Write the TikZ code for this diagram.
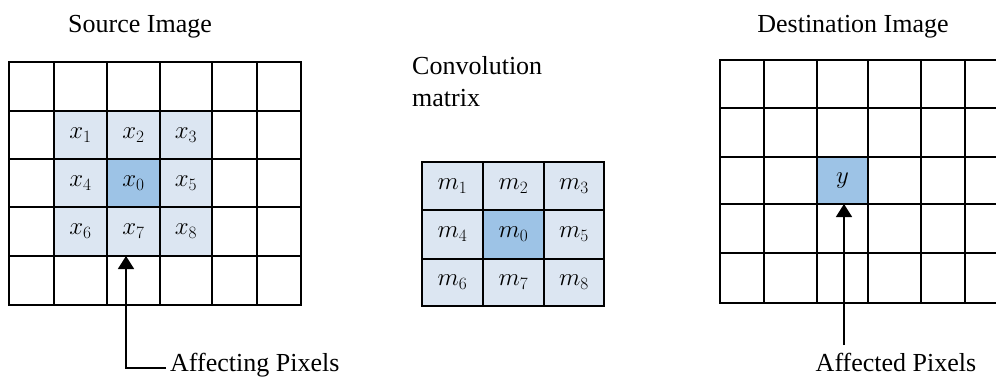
\documentclass[tikz,border=0pt]{standalone}
\usepackage{fontspec}
\setmainfont{Liberation Serif}
\usetikzlibrary{arrows.meta}
\definecolor{lightcell}{HTML}{DCE6F2}
\definecolor{darkcell}{HTML}{9DC3E6}
\newcommand\mkcell[7]{\node[cellbox, fill=#6, minimum width={(#4-#2)*1pt}, minimum height={(#5-#3)*1pt}] (#1) at ({(#2+#4)/2},{(#3+#5)/2}) {#7};}
\begin{document}
\begin{tikzpicture}[x=1pt,y=-1pt,
  gridline/.style={line width=1.6pt, black, line cap=rect},
  cellbox/.style={rectangle, inner sep=0pt, outer sep=0pt, font=\fontsize{26}{30}\selectfont},
  lbl/.style={font=\fontsize{26}{30}\selectfont, inner sep=0pt},
  arr/.style={line width=1.6pt, -{Triangle[width=16pt,length=13pt]}}]
\useasboundingbox (0,0) rectangle (996,377);
% ---------- Source image ----------
\node[lbl, anchor=base] (srctitle) at (140,33) {Source Image};
\mkcell{x1}{54}{111}{107}{159}{lightcell}{$x_1$}
\mkcell{x2}{107}{111}{160}{159}{lightcell}{$x_2$}
\mkcell{x3}{160}{111}{212}{159}{lightcell}{$x_3$}
\mkcell{x4}{54}{159}{107}{207}{lightcell}{$x_4$}
\mkcell{x0}{107}{159}{160}{207}{darkcell}{$x_0$}
\mkcell{x5}{160}{159}{212}{207}{lightcell}{$x_5$}
\mkcell{x6}{54}{207}{107}{256}{lightcell}{$x_6$}
\mkcell{x7}{107}{207}{160}{256}{lightcell}{$x_7$}
\mkcell{x8}{160}{207}{212}{256}{lightcell}{$x_8$}
\foreach \x in {9,54,107,160,212,257,301} \draw[gridline] (\x,62) -- (\x,305);
\foreach \y in {62,111,159,207,256,305} \draw[gridline] (9,\y) -- (301,\y);
\node[lbl, anchor=base west] (affing) at (170,371) {Affecting Pixels};
\draw[arr] ([xshift=-4pt,yshift=3pt]affing.base west) -| ([xshift=-7.5pt]x7.south);
% ---------- Convolution matrix ----------
\node[lbl, anchor=base west] (convA) at (412,75) {Convolution};
\node[lbl, anchor=base west] (convB) at (412,107) {matrix};
\mkcell{m1}{422}{162}{483}{210}{lightcell}{$m_1$}
\mkcell{m2}{483}{162}{544}{210}{lightcell}{$m_2$}
\mkcell{m3}{544}{162}{604}{210}{lightcell}{$m_3$}
\mkcell{m4}{422}{210}{483}{259}{lightcell}{$m_4$}
\mkcell{m0}{483}{210}{544}{259}{darkcell}{$m_0$}
\mkcell{m5}{544}{210}{604}{259}{lightcell}{$m_5$}
\mkcell{m6}{422}{259}{483}{306}{lightcell}{$m_6$}
\mkcell{m7}{483}{259}{544}{306}{lightcell}{$m_7$}
\mkcell{m8}{544}{259}{604}{306}{lightcell}{$m_8$}
\foreach \x in {422,483,544,604} \draw[gridline] (\x,162) -- (\x,306);
\foreach \y in {162,210,259,306} \draw[gridline] (422,\y) -- (604,\y);
% ---------- Destination image ----------
\node[lbl, anchor=base] (dsttitle) at (853,33) {Destination Image};
\mkcell{ycell}{817}{157}{868}{204}{darkcell}{$y$}
\foreach \x in {720,764,817,868,921,965} \draw[gridline] (\x,60) -- (\x,303);
\foreach \y in {60,108,157,204,253,303} \draw[gridline] (720,\y) -- (1005,\y);
\node[lbl, anchor=base] (affed) at (896,371) {Affected Pixels};
\coordinate (d1) at (844,345);
\draw[arr] (d1) -- (d1 |- ycell.south);
\end{tikzpicture}
\end{document}
